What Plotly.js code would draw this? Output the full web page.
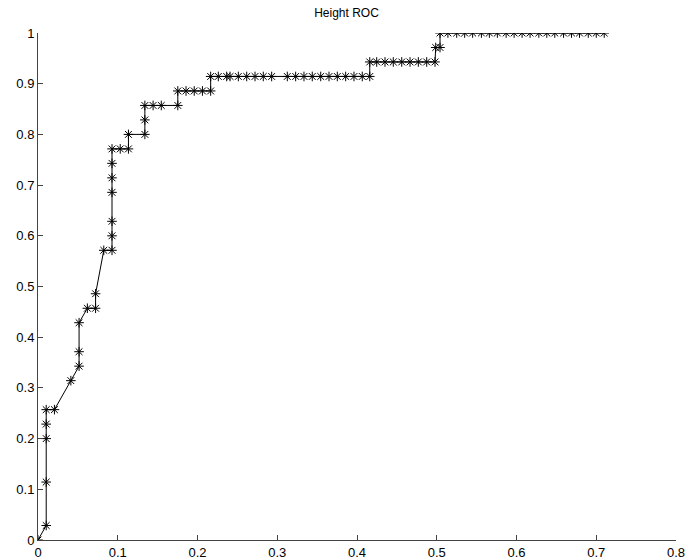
<!DOCTYPE html>
<html>
<head>
<meta charset="utf-8">
<script src="https://cdn.plot.ly/plotly-3.0.1.min.js"></script>
<style>html,body{margin:0;padding:0;background:#fff;}#chart{width:693px;height:560px;}</style>
</head>
<body>
<div id="chart"></div>
<script>
const chartTitle = "Height ROC";
const xTicks = [0, 0.1, 0.2, 0.3, 0.4, 0.5, 0.6, 0.7, 0.8];
const yTicks = [0, 0.1, 0.2, 0.3, 0.4, 0.5, 0.6, 0.7, 0.8, 0.9, 1];
const fpr = [
  0, 0.0103, 0.0103, 0.0103, 0.0103, 0.0103, 0.0206, 0.0412, 0.0515, 0.0515,
  0.0515, 0.0619, 0.0722, 0.0722, 0.0825, 0.0928, 0.0928, 0.0928, 0.0928, 0.0928,
  0.0928, 0.0928, 0.1031, 0.1134, 0.1134, 0.1340, 0.1340, 0.1340, 0.1443, 0.1546,
  0.1753, 0.1753, 0.1856, 0.1959, 0.2062, 0.2165, 0.2165,
  0.2261, 0.2366, 0.2408, 0.2512, 0.2617, 0.2721, 0.2825, 0.2930, 0.3126, 0.3231,
  0.3335, 0.3439, 0.3545, 0.3649, 0.3753, 0.3858, 0.3962, 0.4066, 0.4160,
  0.4160, 0.4247, 0.4351, 0.4455, 0.4561, 0.4665, 0.4769, 0.4874, 0.4978,
  0.4987, 0.5041,
  0.5041, 0.514, 0.525, 0.535, 0.545, 0.556, 0.566, 0.576, 0.587, 0.597,
  0.607, 0.617, 0.628, 0.638, 0.648, 0.659, 0.669, 0.679, 0.690, 0.700, 0.710
];
const tpr = [
  0, 0.0286, 0.1143, 0.2, 0.2286, 0.2571, 0.2571, 0.3143, 0.3429, 0.3714,
  0.4286, 0.4571, 0.4571, 0.4857, 0.5714, 0.5714, 0.6, 0.6286, 0.6857, 0.7143,
  0.7429, 0.7714, 0.7714, 0.7714, 0.8, 0.8, 0.8286, 0.8571, 0.8571, 0.8571,
  0.8571, 0.8857, 0.8857, 0.8857, 0.8857, 0.8857, 0.9143,
  0.9143, 0.9143, 0.9143, 0.9143, 0.9143, 0.9143, 0.9143, 0.9143, 0.9143, 0.9143,
  0.9143, 0.9143, 0.9143, 0.9143, 0.9143, 0.9143, 0.9143, 0.9143, 0.9143,
  0.9429, 0.9429, 0.9429, 0.9429, 0.9429, 0.9429, 0.9429, 0.9429, 0.9429,
  0.9714, 0.9714,
  1, 1, 1, 1, 1, 1, 1, 1, 1, 1,
  1, 1, 1, 1, 1, 1, 1, 1, 1, 1, 1
];

const trace = {
  x: fpr, y: tpr, type: 'scatter', mode: 'lines+markers',
  line: {color: '#000', width: 1},
  marker: {symbol: 'asterisk-open', size: 8, color: '#000', line: {color: '#000', width: 1}},
  hoverinfo: 'skip', showlegend: false
};

const axisFont = {family: 'Liberation Sans, Arial, sans-serif', size: 13, color: '#000'};
const layout = {
  width: 693, height: 560,
  margin: {l: 38, r: 17, t: 33, b: 20, pad: 0},
  paper_bgcolor: '#fff', plot_bgcolor: '#fff',
  title: {text: chartTitle, font: {family: 'Liberation Sans, Arial, sans-serif', size: 12, color: '#000'}, x: 0.5, xanchor: 'center', y: 0.985, yanchor: 'top'},
  xaxis: {range: [0, 0.8], tickvals: xTicks, ticktext: xTicks.map(String), ticks: 'inside', ticklen: 5, tickcolor: '#444',
    showline: true, linecolor: '#444', linewidth: 1, showgrid: false, zeroline: false, tickfont: axisFont, fixedrange: true},
  yaxis: {range: [0, 1], tickvals: yTicks, ticktext: yTicks.map(String), ticks: 'inside', ticklen: 5, tickcolor: '#444',
    showline: true, linecolor: '#444', linewidth: 1, showgrid: false, zeroline: false, tickfont: axisFont, fixedrange: true}
};

Plotly.newPlot('chart', [trace], layout, {displayModeBar: false, staticPlot: true});
</script>
</body>
</html>
